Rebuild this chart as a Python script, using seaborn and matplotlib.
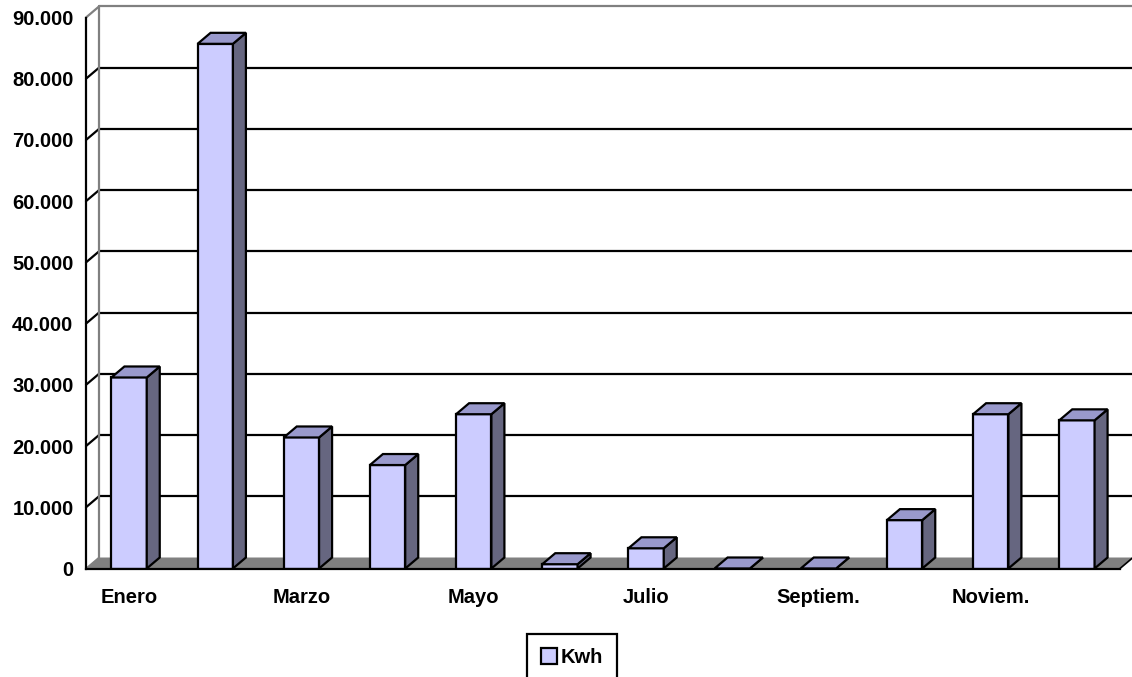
import numpy as np
import seaborn as sns
import matplotlib.pyplot as plt
from matplotlib.patches import Polygon, Patch
from matplotlib.ticker import FuncFormatter

months = ['Enero', 'Febrero', 'Marzo', 'Abril', 'Mayo', 'Junio', 'Julio',
          'Agosto', 'Septiem.', 'Octubre', 'Noviem.', 'Diciem.']
kwh = [31200, 85700, 21400, 16900, 25200, 700, 3300, 0, 0, 7900, 25200, 24200]
shown_labels = ['Enero', '', 'Marzo', '', 'Mayo', '', 'Julio', '', 'Septiem.', '', 'Noviem.', '']
y_ticks = [0, 10000, 20000, 30000, 40000, 50000, 60000, 70000, 80000, 90000]
series_name = 'Kwh'

FRONT = '#CCCCFF'
TOP = '#9999CC'
SIDE = '#666680'
FLOOR = '#808080'
DX, DY = 13, 11  # depth offset in pixels
LW = 1.6
FS = 14.5

sns.set_style('white')
plt.rcParams['font.family'] = ['Liberation Sans', 'DejaVu Sans']
plt.rcParams['font.weight'] = 'bold'
plt.rcParams['text.color'] = 'black'
plt.rcParams['xtick.color'] = 'black'
plt.rcParams['ytick.color'] = 'black'

W, H = 1132, 677
fig = plt.figure(figsize=(W / 100, H / 100), dpi=100)
ax = fig.add_axes([86 / W, (H - 568.5) / H, (1120 - 86) / W, (568.5 - 17.5) / H])
ax.patch.set_visible(False)

sns.barplot(x=months, y=kwh, color=FRONT, saturation=1, width=0.41,
            edgecolor='black', linewidth=LW, ax=ax, zorder=3)
ax.set_xlim(-0.5, len(months) - 0.5)
ax.set_ylim(0, 90000)
bars = list(ax.patches)

# depth offset in data units
inv = ax.transData.inverted()
o = ax.transData.transform((0, 0))
ddx, ddy = inv.transform(o + np.array([DX, DY]))

x0, x1 = -0.5, len(months) - 0.5

# back wall gridlines
for v in y_ticks[1:]:
    c = '#808080' if v == 90000 else 'black'
    ax.plot([x0 + ddx, x1 + ddx], [v + ddy, v + ddy], color=c, lw=LW,
            clip_on=False, zorder=0.5)
    ax.plot([x0, x0 + ddx], [v, v + ddy], color=c, lw=LW, clip_on=False, zorder=0.5)
ax.plot([x0 + ddx, x0 + ddx], [ddy, 90000 + ddy], color='#808080', lw=LW,
        clip_on=False, zorder=0.5)

# floor
ax.add_patch(Polygon([(x0, 0), (x1, 0), (x1 + ddx, ddy), (x0 + ddx, ddy)], closed=True,
                     facecolor=FLOOR, edgecolor='none', clip_on=False, zorder=0.6))
ax.plot([x0, x0 + ddx], [0, ddy], color='#808080', lw=1.2, clip_on=False, zorder=0.7)
ax.plot([x1, x1 + ddx], [0, ddy], color='black', lw=1.2, clip_on=False, zorder=0.7)

# 3d top and side faces from the bar patches
for p in bars:
    bx, bw, bh = p.get_x(), p.get_width(), p.get_height()
    top = Polygon([(bx, bh), (bx + bw, bh), (bx + bw + ddx, bh + ddy), (bx + ddx, bh + ddy)],
                  closed=True, facecolor=TOP, edgecolor='black', lw=LW,
                  clip_on=False, zorder=3)
    side = Polygon([(bx + bw, 0), (bx + bw + ddx, ddy), (bx + bw + ddx, bh + ddy), (bx + bw, bh)],
                   closed=True, facecolor=SIDE, edgecolor='black', lw=LW,
                   clip_on=False, zorder=3)
    ax.add_patch(side)
    ax.add_patch(top)

# axes
for s in ['top', 'right']:
    ax.spines[s].set_visible(False)
for s in ['left', 'bottom']:
    ax.spines[s].set_color('black')
    ax.spines[s].set_linewidth(LW)
    ax.spines[s].set_zorder(4)

ax.set_yticks(y_ticks)
ax.yaxis.set_major_formatter(FuncFormatter(lambda v, _: f'{int(v):,}'.replace(',', '.')))
ax.tick_params(axis='y', length=7, width=LW, color='black', pad=2, labelsize=FS,
               labelcolor='black')
ax.set_xticks(range(len(months)))
ax.set_xticklabels(shown_labels)
ax.set_xticks(np.arange(-0.5, len(months)), minor=True)
ax.tick_params(axis='x', which='major', length=0, pad=14, labelsize=FS, labelcolor='black')
ax.tick_params(axis='x', which='minor', length=7, width=LW, color='black')
for t in ax.get_xticklabels() + ax.get_yticklabels():
    t.set_fontweight('bold')
ax.set_xlabel('')
ax.set_ylabel('')

handles = [Patch(facecolor=FRONT, edgecolor='black', linewidth=LW, label=series_name)]
leg = fig.legend(handles=handles, loc='upper center', bbox_to_anchor=(572 / W, 1 - 634 / H),
                 frameon=True, fancybox=False, edgecolor='black', framealpha=1,
                 handlelength=0.8, handleheight=0.8, handletextpad=0.15,
                 borderpad=0.7, borderaxespad=0, prop={'weight': 'bold', 'size': FS})
leg.get_frame().set_linewidth(LW)

fig.savefig('out.png', dpi=100, facecolor='white')
